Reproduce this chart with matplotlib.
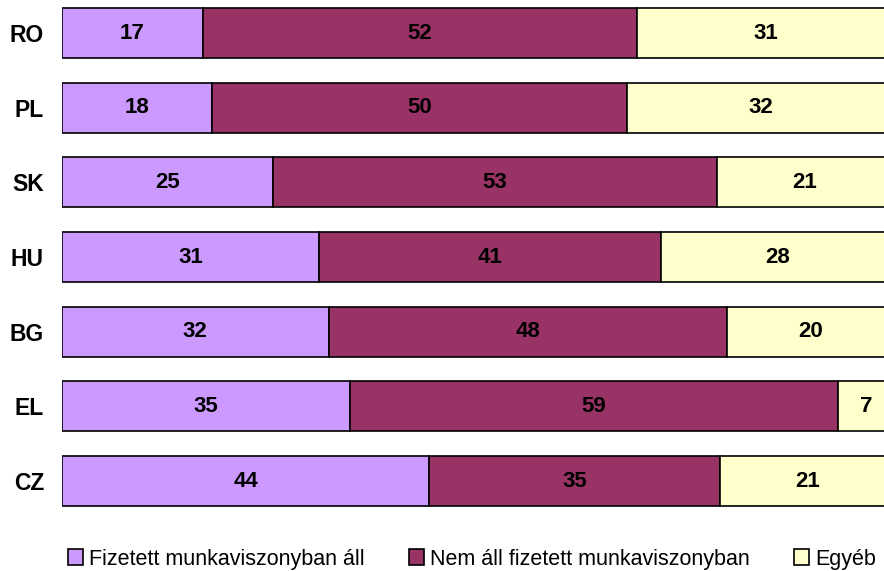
import matplotlib.pyplot as plt
import numpy as np

plt.rcParams['font.family'] = ['Liberation Sans', 'DejaVu Sans']

# Data (shares in %; labels show rounded values)
countries = ['RO', 'PL', 'SK', 'HU', 'BG', 'EL', 'CZ']
paid = [16.9, 18.0, 25.3, 30.9, 32.0, 34.6, 44.1]
not_paid = [52.1, 49.8, 53.4, 41.0, 47.8, 58.6, 34.9]
other = [31.0, 32.2, 21.0, 28.1, 20.2, 6.8, 21.0]
series_names = ['Fizetett munkaviszonyban áll', 'Nem áll fizetett munkaviszonyban', 'Egyéb']
colors = ['#CC99FF', '#993366', '#FFFFCC']

fig = plt.figure(figsize=(8.84, 5.71), dpi=100)
ax = fig.add_axes([62 / 884, 51 / 571, 1 - 62 / 884, 520 / 571])

y = np.arange(len(countries))
left = np.zeros(len(countries))
for vals, name, col in zip([paid, not_paid, other], series_names, colors):
    vals = np.array(vals)
    ax.barh(y, vals, left=left, height=0.67, color=col, edgecolor='black',
            linewidth=1.2, label=name)
    for yi, l, v in zip(y, left, vals):
        ax.text(l + v / 2, yi, f'{v:.0f}', ha='center', va='center', fontsize=16,
                fontweight='bold', color='black')
    left = left + vals

ax.set_xlim(0, 98.7)
ax.set_ylim(6.52, -0.442)
ax.set_yticks(y)
ax.set_yticklabels(countries, fontsize=16.5, fontweight='bold')
ax.tick_params(axis='y', length=0, pad=13)
ax.set_xticks([])
for s in ax.spines.values():
    s.set_visible(False)

fig.legend(loc='center', bbox_to_anchor=(0.534, 12 / 571), ncol=3,
           frameon=False, fontsize=15.5, handlelength=0.7, handleheight=0.7,
           handletextpad=0.3, columnspacing=2.05, borderaxespad=0)

plt.savefig('out.png', dpi=100, facecolor='white')
